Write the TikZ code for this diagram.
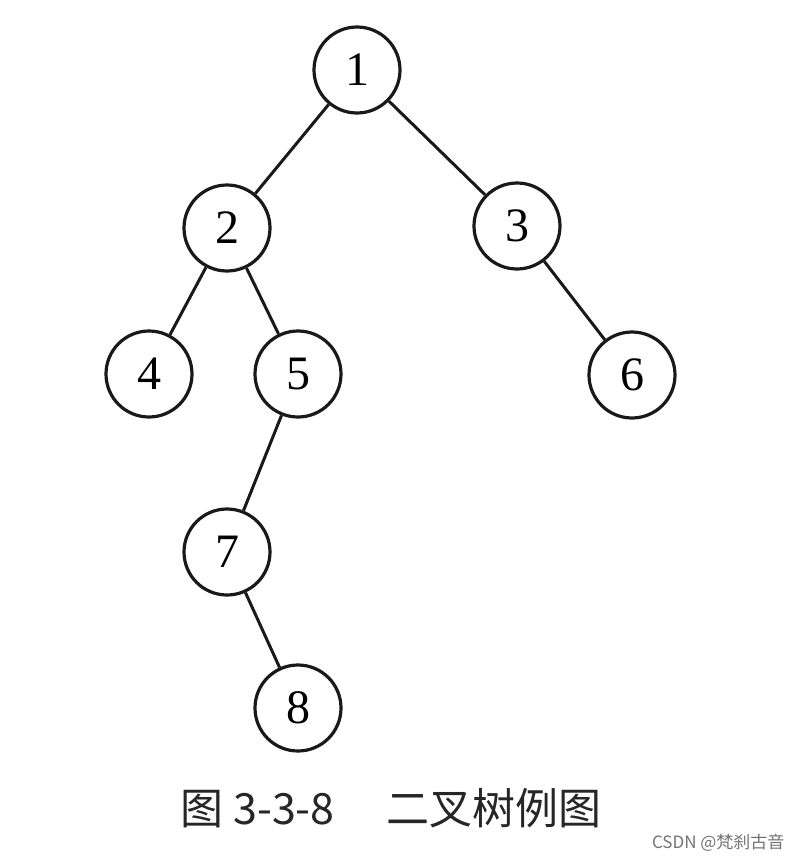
\documentclass[tikz,border=0pt]{standalone}
\usepackage{fontspec}
\setmainfont{Liberation Serif}
\newfontfamily\cjk{Noto Sans CJK SC}
\begin{document}
\begin{tikzpicture}[x=1pt,y=-1pt,
  treenode/.style={circle,draw=black!90,line width=3.2pt,minimum size=86pt,inner sep=0pt,font=\fontsize{48}{48}\selectfont},
  edge/.style={draw=black!90,line width=3pt}]
\useasboundingbox (0,0) rectangle (797,862);
\node[treenode] (n1) at (357,70) {1};
\node[treenode] (n2) at (227,228) {2};
\node[treenode] (n3) at (517,226) {3};
\node[treenode] (n4) at (149,374) {4};
\node[treenode] (n5) at (298,374) {5};
\node[treenode] (n6) at (632,375) {6};
\node[treenode] (n7) at (227,552) {7};
\node[treenode] (n8) at (298,708) {8};
\draw[edge] (n1) -- (n2);
\draw[edge] (n1) -- (n3);
\draw[edge] (n2) -- (n4);
\draw[edge] (n2) -- (n5);
\draw[edge] (n3) -- (n6);
\draw[edge] (n5) -- (n7);
\draw[edge] (n7) -- (n8);
\node[font=\cjk\fontsize{43}{43}\selectfont,text=black!85] (cap) at (391,808) {图 3-3-8\hspace{1.2em}二叉树例图};
\node[font=\cjk\fontsize{17}{17}\selectfont,text=black!55,anchor=east] (wm) at (788,843) {CSDN @梵刹古音};
\end{tikzpicture}
\end{document}
